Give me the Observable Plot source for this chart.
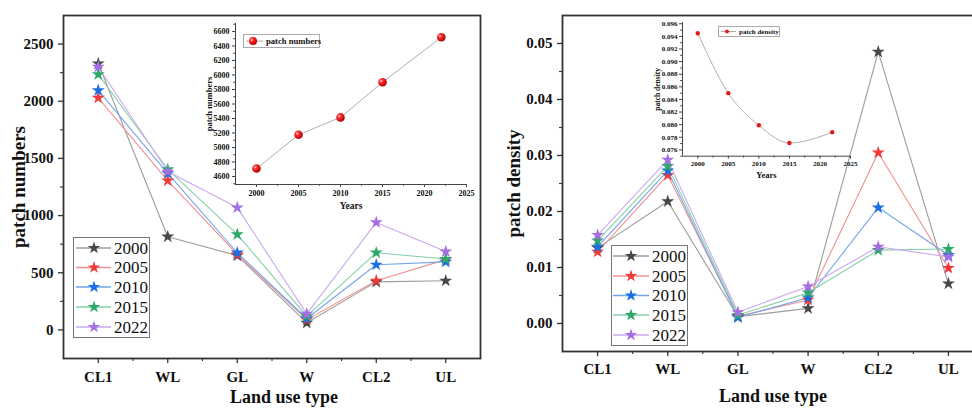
<!DOCTYPE html>
<html><head><meta charset="utf-8">
<script src="https://cdn.jsdelivr.net/npm/d3@7"></script>
<script src="https://cdn.jsdelivr.net/npm/@observablehq/plot@0.6"></script>
<style>
html,body{margin:0;padding:0;background:#fff;}
#wrap{position:relative;width:972px;height:408px;overflow:hidden;font-family:"Liberation Serif","DejaVu Serif",serif;}
#wrap svg{position:absolute;}
</style></head><body><div id="wrap"></div>
<script>
// ---------- data ----------
const categories = ["CL1", "WL", "GL", "W", "CL2", "UL"];
const years = ["2000", "2005", "2010", "2015", "2022"];
const starColors = ["#474747", "#f03a3a", "#1c6fe3", "#2ea86a", "#a56fe2"];
const lineColors = ["#9c9c9c", "#f29090", "#72a6ec", "#86d0a8", "#cba8f0"];

// patch numbers per land use type
const pn2000 = [2330, 815, 650, 62, 420, 430];
const pn2005 = [2030, 1305, 660, 90, 430, 615];
const pn2010 = [2095, 1370, 675, 100, 570, 595];
const pn2015 = [2235, 1405, 835, 120, 675, 620];
const pn2022 = [2300, 1385, 1070, 140, 940, 685];

// patch density per land use type
const pd2000 = [0.0135, 0.0218, 0.0012, 0.0027, 0.0485, 0.0071];
const pd2005 = [0.0128, 0.0265, 0.0013, 0.0042, 0.0305, 0.0099];
const pd2010 = [0.0137, 0.0273, 0.0011, 0.0046, 0.0207, 0.0122];
const pd2015 = [0.0148, 0.0281, 0.0015, 0.0055, 0.0131, 0.0133];
const pd2022 = [0.0158, 0.0292, 0.0020, 0.0066, 0.0137, 0.0119];

// inset totals
const insetYears = [2000, 2005, 2010, 2015, 2022];
const totalPatchNumbers = [4710, 5175, 5415, 5900, 6520];
const totalPatchDensity = [0.0945, 0.0850, 0.0799, 0.0771, 0.0788];

// ticks
const pnTicks = [0, 500, 1000, 1500, 2000, 2500];
const pnMinor = [250, 750, 1250, 1750, 2250];
const pdTicks = [0, 0.01, 0.02, 0.03, 0.04, 0.05];
const pdMinor = [0.005, 0.015, 0.025, 0.035, 0.045];
const insetPnTicks = [4600, 4800, 5000, 5200, 5400, 5600, 5800, 6000, 6200, 6400, 6600];
const insetPdTicks = [0.076, 0.078, 0.080, 0.082, 0.084, 0.086, 0.088, 0.090, 0.092, 0.094, 0.096];
const insetXTicks = [2000, 2005, 2010, 2015, 2020, 2025];

const FONT = "Liberation Serif, DejaVu Serif, serif";
const wrap = document.getElementById("wrap");

function place(svg, left, top) {
  svg.style.left = left + "px";
  svg.style.top = top + "px";
  wrap.appendChild(svg);
  return svg;
}

function mainPlot(o) {
  const catPos = categories.map((c, i) => i + 1);
  const catMinor = d3.range(1.5, 6.5, 1);
  const marks = [
    Plot.axisY(o.yTicks, {tickSize: 5, tickPadding: 5, tickFormat: o.yFormat, fontSize: 15, fontWeight: "bold", fill: "#111", stroke: "#333", strokeWidth: 1.3, label: null}),
    Plot.axisY(o.yMinor, {tickSize: 3, tickFormat: () => "", stroke: "#333", strokeWidth: 1.1, label: null}),
    Plot.axisX(catPos, {tickSize: 5, tickPadding: o.xPad, tickFormat: i => categories[i - 1], fontSize: 15, fontWeight: "bold", fill: "#111", stroke: "#333", strokeWidth: 1.3, label: null}),
    Plot.axisX(catMinor, {tickSize: 3, tickFormat: () => "", stroke: "#333", strokeWidth: 1.1, label: null}),
    Plot.text([o.ylabel], {frameAnchor: "left", textAnchor: "middle", lineAnchor: "middle", dx: o.ylabelDx, rotate: -90, fontSize: 19, fontWeight: "bold", fill: "#111"}),
    Plot.text(["Land use type"], {frameAnchor: "bottom", textAnchor: "middle", lineAnchor: "middle", dx: o.xlabelDx, dy: o.xlabelDy, fontSize: 18, fontWeight: "bold", fill: "#111"})
  ];
  years.forEach((y, k) => {
    const rows = o.series[k].map((v, i) => ({x: i + 1, v}));
    marks.push(Plot.line(rows, {x: "x", y: "v", stroke: lineColors[k], strokeWidth: 1.1}));
  });
  years.forEach((y, k) => {
    const rows = o.series[k].map((v, i) => ({x: i + 1, v}));
    marks.push(Plot.dot(rows, {x: "x", y: "v", symbol: "star", r: 4.1, fill: starColors[k], stroke: "none"}));
  });
  marks.push(Plot.frame({stroke: "#333", strokeWidth: 1.8}));
  return Plot.plot({
    width: o.width, height: o.height,
    marginLeft: o.ml, marginRight: o.mr, marginTop: o.mt, marginBottom: o.mb,
    style: {fontFamily: FONT, background: "transparent", overflow: "visible"},
    x: {domain: [0.5, 6.5]},
    y: {domain: o.yDomain},
    marks
  });
}

function insetPlot(o) {
  const rows = insetYears.map((yr, i) => ({yr, v: o.values[i]}));
  return Plot.plot({
    width: o.width, height: o.height,
    marginLeft: o.ml, marginRight: o.mr, marginTop: o.mt, marginBottom: o.mb,
    style: {fontFamily: FONT, background: "transparent", overflow: "visible"},
    x: {domain: [1997.5, 2025]},
    y: {domain: o.yDomain},
    marks: [
      Plot.ruleX([1997.5], {stroke: "#444", strokeWidth: 1}),
      Plot.ruleY([o.yDomain[0]], {stroke: "#444", strokeWidth: 1}),
      Plot.axisY(o.yTicks, {tickSize: 3, tickPadding: o.yPad, tickFormat: o.yFormat, fontSize: o.fs, fontWeight: "bold", fill: "#111", stroke: "#444", label: null}),
      Plot.axisY(o.yMinor, {tickSize: 1.8, tickFormat: () => "", stroke: "#444", label: null}),
      Plot.axisX(insetXTicks, {tickSize: 3, tickPadding: o.xPad, tickFormat: d => String(d), fontSize: o.fs, fontWeight: "bold", fill: "#111", stroke: "#444", label: null}),
      Plot.axisX(d3.range(2002.5, 2025, 5), {tickSize: 1.8, tickFormat: () => "", stroke: "#444", label: null}),
      Plot.text([o.ylabel], {frameAnchor: "left", textAnchor: "middle", lineAnchor: "middle", dx: o.ylabelDx, rotate: -90, fontSize: o.fs + 0.5, fontWeight: "bold", fill: "#111"}),
      Plot.text(["Years"], {frameAnchor: "bottom", textAnchor: "middle", lineAnchor: "middle", dy: o.xlabelDy, fontSize: o.fs + 1.5, fontWeight: "bold", fill: "#111"}),
      Plot.line(rows, {x: "yr", y: "v", stroke: "#b0b0b0", strokeWidth: 1, curve: o.curve}),
      Plot.dot(rows, {x: "yr", y: "v", r: o.r, fill: "#e41a1a", stroke: "none"})
    ]
  });
}

// ---------- main panels ----------
const left = mainPlot({
  series: [pn2000, pn2005, pn2010, pn2015, pn2022],
  yDomain: [-250, 2750], yTicks: pnTicks, yMinor: pnMinor, yFormat: d => String(d),
  width: 490, height: 408, ml: 63, mr: 10, mt: 15, mb: 50, xPad: 8,
  ylabel: "patch numbers", ylabelDx: -45, xlabelDx: 12, xlabelDy: 39
});
place(left, 0, 0);

const right = mainPlot({
  series: [pd2000, pd2005, pd2010, pd2015, pd2022],
  yDomain: [-0.005, 0.055], yTicks: pdTicks, yMinor: pdMinor, yFormat: d3.format(".2f"),
  width: 500, height: 408, ml: 72, mr: 7, mt: 15, mb: 57, xPad: 7,
  ylabel: "patch density", ylabelDx: -49, xlabelDx: 0, xlabelDy: 45
});
place(right, 490, 0);

// ---------- insets ----------
const inset1 = insetPlot({
  values: totalPatchNumbers, yDomain: [4490, 6710], yTicks: insetPnTicks,
  yMinor: d3.range(4500, 6701, 200), yFormat: d => String(d),
  width: 285, height: 200, ml: 40, mr: 14, mt: 8, mb: 31, fs: 8, yPad: 3, xPad: 3,
  ylabel: "patch numbers", ylabelDx: -26, xlabelDy: 21, r: 4.3, curve: "linear"
});
place(inset1, 195, 15);
// shiny ball markers
{
  const s = d3.select(inset1);
  const g = s.insert("defs", ":first-child").append("radialGradient").attr("id", "ball").attr("cx", "35%").attr("cy", "35%").attr("r", "65%");
  g.append("stop").attr("offset", "0%").attr("stop-color", "#ffd0d0");
  g.append("stop").attr("offset", "35%").attr("stop-color", "#ff2a2a");
  g.append("stop").attr("offset", "100%").attr("stop-color", "#b00000");
  s.selectAll("circle").attr("fill", "url(#ball)");
}

const inset2 = insetPlot({
  values: totalPatchDensity, yDomain: [0.075, 0.0962], yTicks: insetPdTicks,
  yMinor: d3.range(0.075, 0.0961, 0.002), yFormat: d3.format(".3f"),
  width: 220, height: 180, ml: 42, mr: 10, mt: 12, mb: 34.3, fs: 7, yPad: 2, xPad: 1.5,
  ylabel: "patch density", ylabelDx: -25, xlabelDy: 19, r: 2.2, curve: "monotone-x"
});
place(inset2, 640, 10);

// ---------- legends ----------
function starPath(R) { return d3.symbol(d3.symbolStar, R * R / 0.8908130915292852)(); }

function mainLegend(x, y, rowY, lineX0, lineX1, starX, textX) {
  const svg = d3.create("svg").attr("width", 80).attr("height", 104);
  svg.append("rect").attr("x", 0.5).attr("y", 0.5).attr("width", 76).attr("height", 100)
    .attr("fill", "#fff").attr("stroke", "#777").attr("stroke-width", 1);
  years.forEach((yr, k) => {
    const cy = rowY[k];
    svg.append("line").attr("x1", lineX0).attr("x2", lineX1).attr("y1", cy).attr("y2", cy)
      .attr("stroke", lineColors[k]).attr("stroke-width", 1.3);
    svg.append("path").attr("d", starPath(6.6)).attr("transform", `translate(${starX},${cy})`).attr("fill", starColors[k]);
    svg.append("text").attr("x", textX).attr("y", cy).attr("dy", "0.35em")
      .attr("font-family", FONT).attr("font-size", 17).attr("fill", "#111").text(yr);
  });
  place(svg.node(), x, y);
}
mainLegend(73, 237, [11, 30.5, 50, 70, 90], 3, 38, 21, 41);
mainLegend(611, 245, [11, 31, 50.5, 70, 90], 2, 38, 20, 41);

function insetLegend(x, y, w, h, label, fs, lineX0, lineX1, markX, r, ball) {
  const svg = d3.create("svg").attr("width", w + 2).attr("height", h + 2);
  if (ball) {
    const g = svg.append("defs").append("radialGradient").attr("id", "ball2").attr("cx", "35%").attr("cy", "35%").attr("r", "65%");
    g.append("stop").attr("offset", "0%").attr("stop-color", "#ffd0d0");
    g.append("stop").attr("offset", "35%").attr("stop-color", "#ff2a2a");
    g.append("stop").attr("offset", "100%").attr("stop-color", "#b00000");
  }
  svg.append("rect").attr("x", 0.5).attr("y", 0.5).attr("width", w).attr("height", h)
    .attr("fill", "#fff").attr("stroke", "#aaa").attr("stroke-width", 1);
  const cy = h / 2 + 0.5;
  svg.append("line").attr("x1", lineX0).attr("x2", lineX1).attr("y1", cy).attr("y2", cy).attr("stroke", "#aaa");
  svg.append("circle").attr("cx", markX).attr("cy", cy).attr("r", r).attr("fill", ball ? "url(#ball2)" : "#e41a1a");
  svg.append("text").attr("x", lineX1 + 3).attr("y", cy).attr("dy", "0.35em")
    .attr("font-family", FONT).attr("font-weight", "bold").attr("font-size", fs).attr("fill", "#111").text(label);
  place(svg.node(), x, y);
}
insetLegend(243, 34, 76, 13, "patch numbers", 8.6, 3, 20, 10, 4, true);
insetLegend(718, 26, 61, 10, "patch density", 7, 3, 18, 9, 2, false);
</script></body></html>
